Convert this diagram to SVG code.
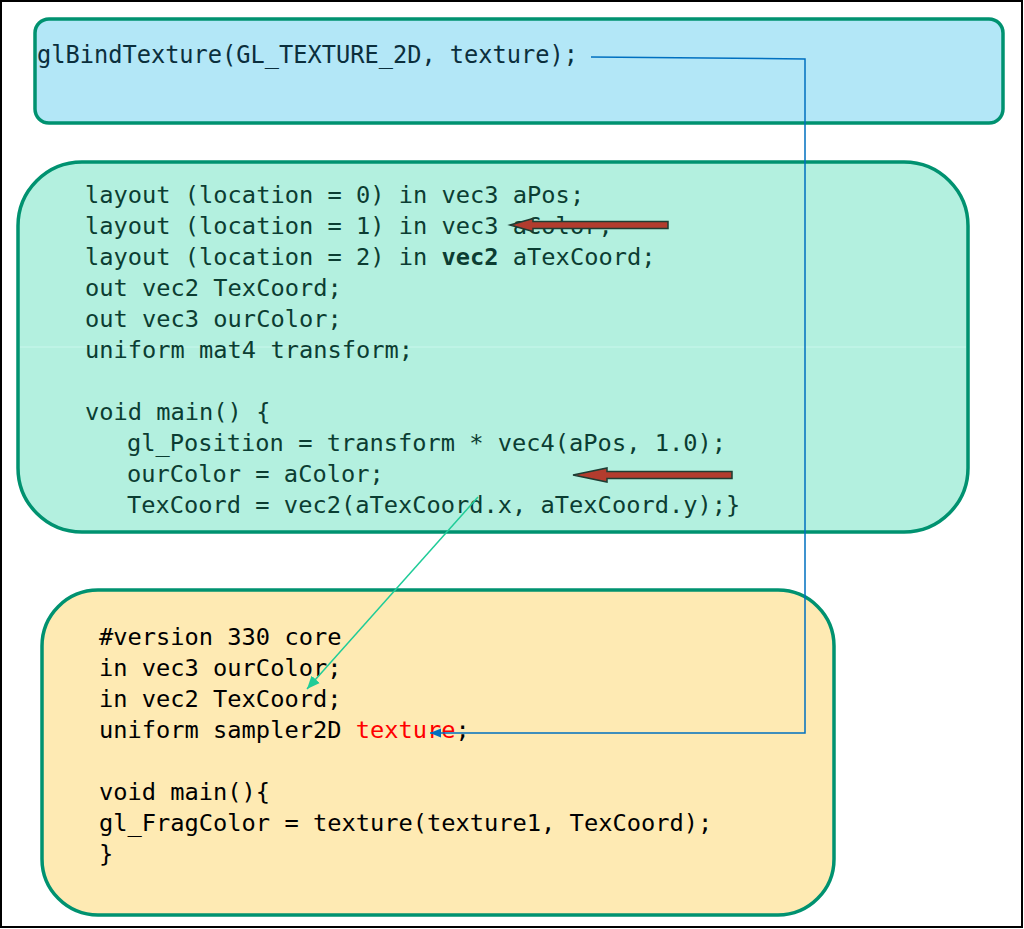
<svg xmlns="http://www.w3.org/2000/svg" width="1024" height="929" viewBox="0 0 1024 929">
<style>
.box{stroke:#009270;stroke-width:3.5}
.code{font-family:"DejaVu Sans Mono","Liberation Mono",monospace;font-size:23.7px}
.mid{fill:#0b3d32}
.bot{fill:#000}
.blk{fill:#b23c2e;stroke:#1d3d33;stroke-width:1.5}
</style>
<defs>
<marker id="blueHead" markerWidth="12" markerHeight="10" refX="11" refY="5" orient="auto" markerUnits="userSpaceOnUse">
<path d="M0,0.5 L11,5 L0,9.5 Z" fill="#0070c0"/>
</marker>
<marker id="tealHead" markerWidth="14" markerHeight="12" refX="13" refY="6" orient="auto" markerUnits="userSpaceOnUse">
<path d="M0,0.5 L13,6 L0,11.5 Z" fill="#1fcc98"/>
</marker>
</defs>
<rect x="0" y="0" width="1024" height="929" fill="#fff"/>
<rect x="1" y="1" width="1021" height="926" fill="none" stroke="#000" stroke-width="2"/>

<g id="bind">
<rect class="box" x="35" y="19" width="968" height="104" rx="14" fill="#b3e7f7"/>
<text x="37" y="63" font-family="DejaVu Sans Mono,Liberation Mono,monospace" font-size="25" fill="#0b2f3d" textLength="541" lengthAdjust="spacingAndGlyphs">glBindTexture(GL_TEXTURE_2D, texture);</text>
</g>

<g id="vertex">
<rect class="box" x="18" y="162" width="950" height="370" rx="64" fill="#b3f0df"/>
<line x1="20" y1="347" x2="966" y2="347" stroke="#c9f7ec" stroke-width="1"/>
<g class="code mid">
<text x="85" y="203">layout (location = 0) in vec3 aPos;</text>
<text x="85" y="234">layout (location = 1) in vec3 aColor;</text>
<text x="85" y="265">layout (location = 2) in <tspan font-weight="bold">vec2</tspan> aTexCoord;</text>
<text x="85" y="296">out vec2 TexCoord;</text>
<text x="85" y="327">out vec3 ourColor;</text>
<text x="85" y="358">uniform mat4 transform;</text>
<text x="85" y="420">void main() {</text>
<text x="127" y="451">gl_Position = transform * vec4(aPos, 1.0);</text>
<text x="127" y="482">ourColor = aColor;</text>
<text x="127" y="513">TexCoord = vec2(aTexCoord.x, aTexCoord.y);}</text>
</g>
</g>

<g id="fragment">
<rect class="box" x="42" y="590" width="792" height="325" rx="56" fill="#feeab3"/>
<g class="code bot">
<text x="99" y="645">#version 330 core</text>
<text x="99" y="676">in vec3 ourColor;</text>
<text x="99" y="707">in vec2 TexCoord;</text>
<text x="99" y="738">uniform sampler2D <tspan fill="#ff0000">texture</tspan>;</text>
<text x="99" y="800">void main(){</text>
<text x="99" y="831">gl_FragColor = texture(texture1, TexCoord);</text>
<text x="99" y="862">}</text>
</g>
</g>

<g id="connectors">
<polyline points="591,57 805,59 805,733 430,733" fill="none" stroke="#0070c0" stroke-width="1.5" marker-end="url(#blueHead)"/>
<line x1="478" y1="497" x2="307" y2="689" stroke="#1fcc98" stroke-width="1.5" marker-end="url(#tealHead)"/>
<path class="blk" d="M668,221.5 L533,221.5 L533,218.5 L510,225 L533,231.5 L533,228.5 L668,228.5 Z"/>
<path class="blk" d="M732,471.5 L607,471.5 L607,468 L573,475 L607,482 L607,478.5 L732,478.5 Z"/>
</g>
</svg>
